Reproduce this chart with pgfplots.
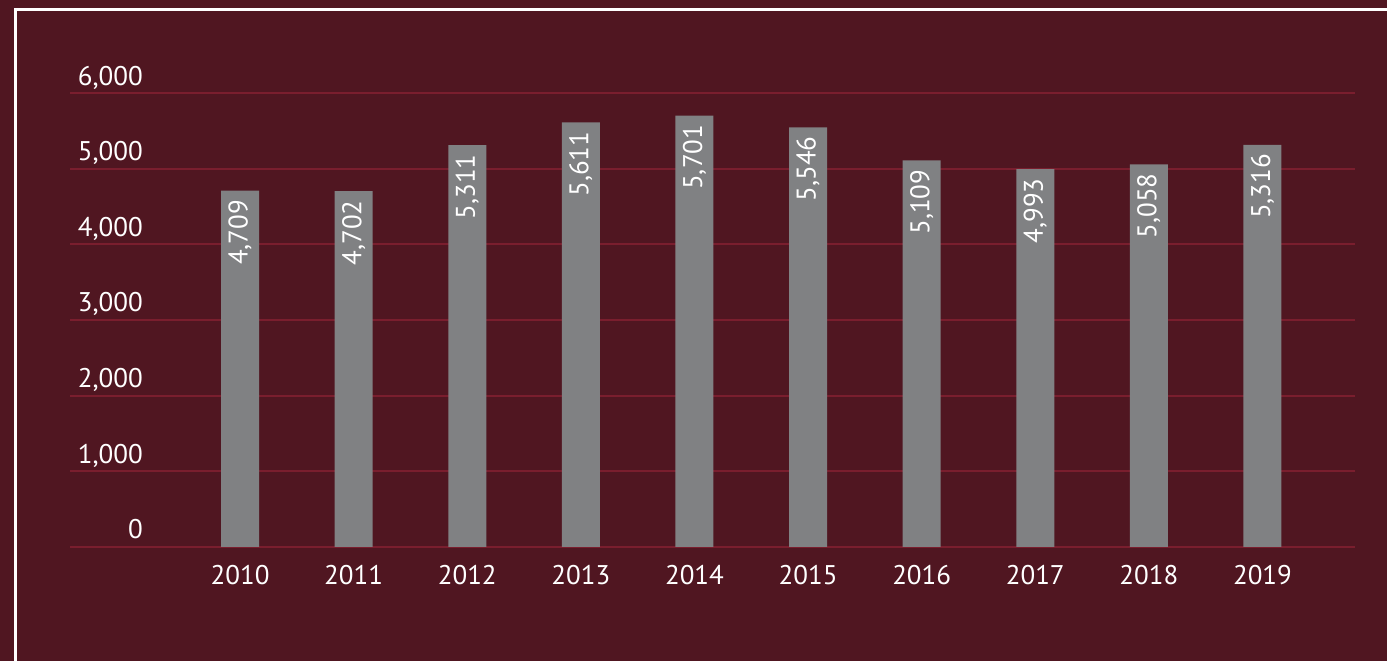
\documentclass[border=0pt]{standalone}
\usepackage{pgfplots}
\pgfplotsset{compat=1.18}
\usepackage{fontspec}
\setmainfont{PT Sans}
\definecolor{bgred}{RGB}{80,22,33}
\definecolor{gridred}{RGB}{122,30,46}
\definecolor{bargray}{RGB}{128,129,131}
\begin{document}
\begin{tikzpicture}[x=1pt,y=1pt]
\path[use as bounding box] (0,0) rectangle (1387,661);
\fill[bgred] (0,0) rectangle (1387,661);
\draw[white,line width=3pt] (15,0) -- (15,651) -- (1387,651);
\begin{axis}[
  at={(70pt,114pt)}, anchor=south west,
  scale only axis, width=1285pt, height=454pt,
  xmin=-1.497, xmax=9.815, ymin=0, ymax=6000,
  ytick={0,1000,...,6000},
  xtick={0,...,9},
  xticklabels={2010,2011,2012,2013,2014,2015,2016,2017,2018,2019},
  axis line style={draw=none},
  major tick length=0pt,
  ymajorgrids, grid style={gridred, line width=2pt},
  font=\fontsize{27}{32}\selectfont,
  /pgf/number format/.cd, 1000 sep={,}, assume math mode=true, /pgfplots/.cd,
  yticklabel style={white, inner sep=0pt, anchor=base east, xshift=73pt, yshift=8pt},
  xticklabel style={white, inner sep=0pt, anchor=north, yshift=-18pt},
  scaled y ticks=false,
  clip=false,
]
\addplot[ybar, bar width=38pt, fill=bargray, draw=none,
  nodes near coords,
  every node near coord/.append style={white, rotate=90, anchor=east, inner xsep=9pt, inner ysep=0pt,
    font=\fontsize{27}{32}\selectfont},
] coordinates {
(0,4709) (1,4702) (2,5311) (3,5611) (4,5701) (5,5546) (6,5109) (7,4993) (8,5058) (9,5316)
};
\end{axis}
\end{tikzpicture}
\end{document}
